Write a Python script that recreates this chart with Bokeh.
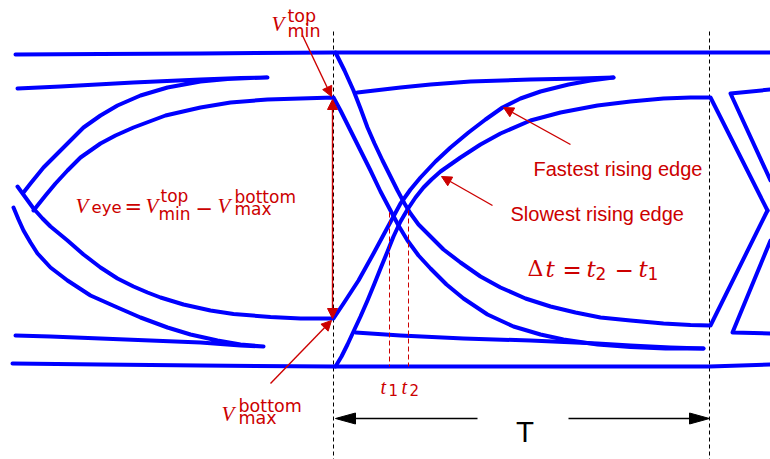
from bokeh.plotting import figure
from bokeh.models import Range1d, Label, Arrow, NormalHead
from bokeh.embed import file_html
from bokeh.resources import INLINE

W, H = 770, 459
BLUE = "#0000ff"
RED = "#cc0000"

# ---------------- data (picture coordinates, y downward) ----------------
T_START, T_END = 333, 709          # the bit period boundaries
T1_X, T1_Y = 389, 212              # crossing t1
T2_X, T2_Y = 408, 210              # crossing t2
RAIL_BOTTOM_Y = 366

TOP_RAIL_X = [15, 100, 200, 333, 450, 600, 709, 770]
TOP_RAIL_Y = [54, 53.5, 53, 52, 52, 52, 52, 52]

BOT_RAIL_X = [12, 100, 200, 333, 450, 600, 709, 770]
BOT_RAIL_Y = [363, 364, 365, 366, 366, 366, 366, 364]

# previous bit: fastest edge tip and its return
PREV_FAST_X = [17, 60, 133, 200, 240, 267, 250, 227, 200, 167, 140, 117, 100, 83, 72, 60, 43, 30, 23]
PREV_FAST_Y = [88, 86, 82, 79, 77.5, 77, 77.5, 78.5, 81, 87, 95, 105, 115, 127, 138, 150, 167, 183, 192]

# top of the eye (left part) + falling edge from V_min^top
EYE_TOP_X = [33, 45, 55, 67, 80, 100, 115, 133, 165, 200, 230, 267, 300, 333,
             340, 350, 360, 370, 380, 390, 398, 407, 418, 430, 446, 463, 487, 513, 540, 563, 597, 630, 665, 703]
EYE_TOP_Y = [210, 195, 183, 170, 157, 143, 135, 127, 115, 107, 102, 99, 98, 97,
             110, 130, 150, 170, 191, 210, 225, 240, 255, 268, 284, 298, 314, 326, 334, 339, 344, 346.5, 348, 348]

# return line of the falling edge tip
TIP_LOW_X = [703, 670, 630, 597, 530, 463, 400, 355]
TIP_LOW_Y = [348, 347, 345, 343, 340, 338, 335, 332]

# bottom of the eye (left part) + fastest rising edge
EYE_BOT_X = [17, 25, 33, 42, 50, 67, 83, 100, 117, 133, 147, 160, 183, 210, 233, 270, 300, 333,
             343, 358, 373, 387, 400, 410, 420, 435, 450, 468, 485, 502, 520, 540, 568, 590, 613]
EYE_BOT_Y = [186, 197, 208, 218, 226, 240, 254, 267, 278, 286, 292, 297, 304, 310, 313.5, 316.5, 318, 318,
             303, 280, 253, 227, 203, 189, 177, 161, 147, 132, 119, 107, 98, 91, 84, 80, 77]

# return line of the rising edge tip
TIP_HIGH_X = [613, 580, 530, 470, 430, 400, 357]
TIP_HIGH_Y = [77, 78, 79, 81, 84, 87, 92]

# previous bit: slow edge into bottom tip and its return
PREV_SLOW_X = [13, 18, 23, 30, 37, 50, 67, 90, 117, 140, 167, 190, 217, 240, 263, 240, 200, 150, 100, 50, 15]
PREV_SLOW_Y = [207, 219, 230, 242, 253, 267, 280, 295, 307, 317, 327, 334, 340, 344, 346, 345, 342, 340, 338, 336, 335]

# falling edge from the top rail
FALL_TOP_X = [335, 344, 353, 360, 367, 374, 382, 390, 397, 404, 410, 418, 427, 443, 460, 480, 500, 525,
              550, 575, 600, 630, 663, 690, 710, 767]
FALL_TOP_Y = [52, 70, 90, 108, 127, 143, 160, 176, 190, 203, 213, 224, 233, 249, 262, 276, 287, 298,
              306, 312, 317, 320, 323, 324.5, 325, 210]

# slowest rising edge from the bottom rail
RISE_SLOW_X = [335, 341, 347, 353, 360, 367, 374, 380, 387, 393, 400, 407, 415, 423, 431, 440, 460, 480,
               500, 530, 560, 597, 630, 663, 690, 710, 767]
RISE_SLOW_Y = [366, 356, 344, 331, 316, 300, 283, 268, 251, 236, 221, 209, 197, 187, 179, 171, 157, 144,
               133, 120, 112, 105, 101, 98, 97, 97, 210]

# next bit, right border
NEXT_TOP_X = [770, 730, 770]
NEXT_TOP_Y = [89, 93, 180]
NEXT_BOT_X = [770, 732, 770]
NEXT_BOT_Y = [333, 332, 240]

TRACES = [
    (TOP_RAIL_X, TOP_RAIL_Y), (BOT_RAIL_X, BOT_RAIL_Y),
    (PREV_FAST_X, PREV_FAST_Y), (EYE_TOP_X, EYE_TOP_Y), (TIP_LOW_X, TIP_LOW_Y),
    (EYE_BOT_X, EYE_BOT_Y), (TIP_HIGH_X, TIP_HIGH_Y), (PREV_SLOW_X, PREV_SLOW_Y),
    (FALL_TOP_X, FALL_TOP_Y), (RISE_SLOW_X, RISE_SLOW_Y),
    (NEXT_TOP_X, NEXT_TOP_Y), (NEXT_BOT_X, NEXT_BOT_Y),
]

# ---------------- figure ----------------
p = figure(width=W, height=H, x_range=Range1d(0, W), y_range=Range1d(H, 0),
           output_backend="svg", toolbar_location=None, min_border=0,
           x_axis_type=None, y_axis_type=None)
p.grid.visible = False
p.outline_line_color = None
p.background_fill_color = "white"
p.border_fill_color = "white"

# dashed period boundaries
p.segment(x0=[T_START, T_END], y0=[31, 31], x1=[T_START, T_END], y1=[H, H],
          line_color="black", line_width=1, line_dash="4 3")

for xs, ys in TRACES:
    p.line(xs, ys, line_color=BLUE, line_width=4, line_join="round", line_cap="round")

# t1 / t2 red dashed markers
p.segment(x0=[T1_X, T2_X], y0=[T1_Y, T2_Y], x1=[T1_X, T2_X], y1=[RAIL_BOTTOM_Y, RAIL_BOTTOM_Y],
          line_color=RED, line_width=1, line_dash="5 3")


def arrow(x0, y0, x1, y1, size=10, both=False, color=RED, lw=1.4):
    head = NormalHead(size=size, fill_color=color, line_color=color, line_width=1)
    start = NormalHead(size=size, fill_color=color, line_color=color, line_width=1) if both else None
    p.add_layout(Arrow(start=start, end=head, x_start=x0, y_start=y0, x_end=x1, y_end=y1,
                       line_color=color, line_width=lw))


arrow(302, 35, 331, 96)                  # V_min^top
arrow(332, 318, 332, 99, both=True)      # V_eye
arrow(270, 383, 331, 320)                # V_max^bottom
arrow(570, 144, 503, 107)                # fastest
arrow(492, 205, 441, 176)                # slowest

# period T arrows
T_Y = 418
HEAD_LEN, HEAD_HALF = 20, 5.5
p.segment(x0=[T_START + 5, 568], y0=[T_Y, T_Y], x1=[477, T_END - 5], y1=[T_Y, T_Y],
          line_color="black", line_width=1.6)
p.patches(xs=[[T_START + 2, T_START + 2 + HEAD_LEN, T_START + 2 + HEAD_LEN],
              [T_END, T_END - HEAD_LEN, T_END - HEAD_LEN]],
          ys=[[T_Y, T_Y - HEAD_HALF, T_Y + HEAD_HALF], [T_Y, T_Y - HEAD_HALF, T_Y + HEAD_HALF]],
          fill_color="black", line_color="black")


def txt(x, y, s, font="DejaVu Sans", size=17, style="normal", color=RED, align="left"):
    p.add_layout(Label(x=x, y=y, text=s, text_font=font, text_font_size=f"{size}px",
                       text_font_style=style, text_color=color, text_baseline="alphabetic",
                       text_align=align))


SERIF = "Liberation Serif"
DSERIF = "DejaVu Serif"
SANS = "DejaVu Sans"

# V_min^top (top)
txt(271, 23, "V", SERIF, 21, "italic")
txt(287, 15, "top", SANS, 17.5)
txt(287, 30, "min", SANS, 17.5)

# V_max^bottom (bottom)
txt(221, 413, "V", SERIF, 21, "italic")
txt(238, 405, "bottom", SANS, 17.5)
txt(238, 417, "max", SANS, 17.5)

# V_eye formula
txt(75, 205, "V", SERIF, 21, "italic")
txt(91, 207, "eye", SANS, 16.5)
txt(124, 206, "=", SANS, 21)
txt(145, 205, "V", SERIF, 21, "italic")
txt(160, 195, "top", SANS, 17)
txt(158, 213, "min", SANS, 17)
txt(195, 207, "\u2212", SANS, 21)
txt(217, 205, "V", SERIF, 21, "italic")
txt(234, 196, "bottom", SANS, 17)
txt(234, 208, "max", SANS, 17)

# Δt = t2 − t1
txt(527, 268, "\u0394", DSERIF, 22)
txt(545, 268, "t", DSERIF, 23, "italic")
txt(562, 269, "=", SANS, 23)
txt(586, 268, "t", DSERIF, 23, "italic")
txt(595, 273, "2", SANS, 17)
txt(614, 269, "\u2212", SANS, 23)
txt(638, 268, "t", DSERIF, 23, "italic")
txt(647, 273, "1", SANS, 17)

# t1 t2 under the crossings
txt(380, 386, "t", SERIF, 20, "italic")
txt(388, 389, "1", SANS, 15)
txt(401, 386, "t", SERIF, 20, "italic")
txt(409, 389, "2", SANS, 15)

# edge labels
txt(533, 168, "Fastest rising edge", "Liberation Sans", 20)
txt(510, 213, "Slowest rising edge", "Liberation Sans", 20)

# period label
txt(524.5, 432, "T", SANS, 27, color="black", align="center")

open("out.html", "w").write(file_html(p, INLINE))
